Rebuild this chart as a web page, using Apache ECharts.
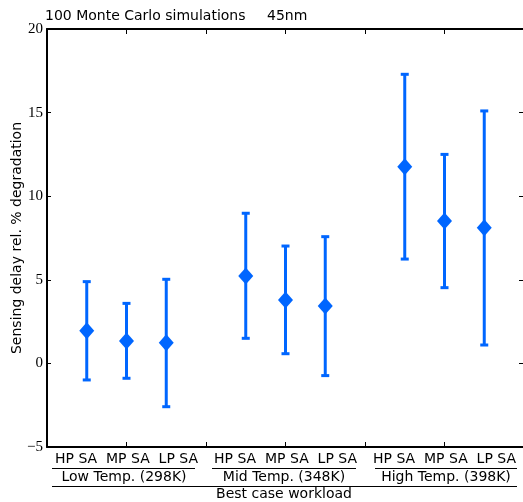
<!DOCTYPE html>
<html><head><meta charset="utf-8">
<script src="https://cdn.jsdelivr.net/npm/echarts@6/dist/echarts.min.js"></script>
<style>html,body{margin:0;padding:0;background:#fff}#c{width:523px;height:502px}</style>
</head><body><div id="c"></div>
<script>
const groups = ['Low Temp. (298K)', 'Mid Temp. (348K)', 'High Temp. (398K)'];
const amps = ['HP SA', 'MP SA', 'LP SA'];
const meanVals = [1.96, 1.34, 1.24, 5.23, 3.79, 3.43, 11.76, 8.52, 8.12];
const upperVals = [4.89, 3.59, 5.03, 8.98, 7.02, 7.58, 17.29, 12.50, 15.10];
const lowerVals = [-0.99, -0.89, -2.59, 1.50, 0.58, -0.73, 6.24, 4.53, 1.10];
const yTicks = [-5, 0, 5, 10, 15, 20];
const xLabel = 'Best case workload';
const yLabel = 'Sensing delay rel. % degradation';

const BLUE = '#0066ff';
const xs = [];
groups.forEach((g, gi) => amps.forEach((a, ai) => xs.push(gi * 2 + 0.5 + ai * 0.5)));
const ampLine = amps.join('  ');
const groupLabelMap = {};
groups.forEach((g, gi) => { groupLabelMap[gi * 2 + 1] = g; });

const errData = xs.map((x, i) => [x, lowerVals[i], upperVals[i]]);
const ptData = xs.map((x, i) => [x, meanVals[i]]);

const chart = echarts.init(document.getElementById('c'));
const sans = 'DejaVu Sans';
const tickStyle = { color: '#000', width: 1 };
chart.setOption({
  animation: false,
  grid: { left: 47, top: 29, width: 477, height: 418, containLabel: false, outerBoundsMode: 'none' },
  xAxis: [
    { type: 'value', min: 0, max: 6, interval: 1, position: 'bottom',
      axisLine: { show: true, onZero: false, lineStyle: { color: '#000', width: 2 } },
      axisTick: { show: true, inside: true, length: 5, lineStyle: tickStyle },
      axisLabel: { show: false }, splitLine: { show: false } },
    { type: 'value', min: 0, max: 6, interval: 1, position: 'bottom',
      axisLine: { show: false }, axisTick: { show: false }, splitLine: { show: false },
      axisLabel: { show: true, margin: 5, color: '#000', fontFamily: sans, fontSize: 14,
        formatter: v => (groupLabelMap[v] ? ampLine : '') } },
    { type: 'value', min: 0, max: 6, interval: 1, position: 'top',
      axisLine: { show: true, onZero: false, lineStyle: { color: '#000', width: 2 } },
      axisTick: { show: true, inside: true, length: 5, lineStyle: tickStyle },
      axisLabel: { show: false }, splitLine: { show: false } }
  ],
  yAxis: [
    { type: 'value', min: yTicks[0], max: yTicks[yTicks.length - 1], interval: 5, position: 'left',
      name: yLabel, nameLocation: 'middle', nameGap: 23, nameMoveOverlap: false,
      nameTextStyle: { fontFamily: sans, fontSize: 14, color: '#000' },
      axisLine: { show: true, onZero: false, lineStyle: { color: '#000', width: 2 } },
      axisTick: { show: true, inside: true, length: 4, lineStyle: tickStyle },
      axisLabel: { margin: 4, color: '#000', fontFamily: 'Liberation Serif', fontSize: 15,
        formatter: v => v < 0 ? '\u2212' + Math.abs(v) : String(v) },
      splitLine: { show: false } },
    { type: 'value', min: yTicks[0], max: yTicks[yTicks.length - 1], interval: 5, position: 'right',
      axisLine: { show: true, onZero: false, lineStyle: { color: '#000', width: 2 } },
      axisTick: { show: true, inside: true, length: 5, lineStyle: tickStyle },
      axisLabel: { show: false }, splitLine: { show: false } }
  ],
  series: [
    { type: 'custom', xAxisIndex: 0, yAxisIndex: 0, data: errData,
      renderItem: (params, api) => {
        const x = api.value(0);
        const lo = api.coord([x, api.value(1)]);
        const hi = api.coord([x, api.value(2)]);
        const hw = 4;
        const st = { stroke: BLUE, lineWidth: 3 };
        return { type: 'group', children: [
          { type: 'line', shape: { x1: lo[0], y1: lo[1], x2: hi[0], y2: hi[1] }, style: st },
          { type: 'line', shape: { x1: lo[0] - hw, y1: lo[1], x2: lo[0] + hw, y2: lo[1] }, style: st },
          { type: 'line', shape: { x1: hi[0] - hw, y1: hi[1], x2: hi[0] + hw, y2: hi[1] }, style: st }
        ]};
      } },
    { type: 'scatter', xAxisIndex: 0, yAxisIndex: 0, data: ptData,
      symbol: 'diamond', symbolSize: [15, 17], itemStyle: { color: BLUE, opacity: 1 }, z: 5 }
  ],
  graphic: [
    { type: 'text', x: 45, y: 16, style: { text: '100 Monte Carlo simulations', font: '14px "DejaVu Sans"', fill: '#000', textVerticalAlign: 'middle' } },
    { type: 'text', x: 267, y: 16, style: { text: '45nm', font: '14px "DejaVu Sans"', fill: '#000', textVerticalAlign: 'middle' } },
    { type: 'line', shape: { x1: 52, y1: 468.5, x2: 195, y2: 468.5 }, style: { stroke: '#000', lineWidth: 1 } },
    { type: 'line', shape: { x1: 212, y1: 468.5, x2: 356, y2: 468.5 }, style: { stroke: '#000', lineWidth: 1 } },
    { type: 'line', shape: { x1: 375, y1: 468.5, x2: 517, y2: 468.5 }, style: { stroke: '#000', lineWidth: 1 } },
    { type: 'line', shape: { x1: 52, y1: 486.5, x2: 517, y2: 486.5 }, style: { stroke: '#000', lineWidth: 1 } },
    { type: 'text', x: 124, y: 477, style: { text: groups[0], font: '14px "DejaVu Sans"', fill: '#000', textAlign: 'center', textVerticalAlign: 'middle' } },
    { type: 'text', x: 284, y: 477, style: { text: groups[1], font: '14px "DejaVu Sans"', fill: '#000', textAlign: 'center', textVerticalAlign: 'middle' } },
    { type: 'text', x: 446, y: 477, style: { text: groups[2], font: '14px "DejaVu Sans"', fill: '#000', textAlign: 'center', textVerticalAlign: 'middle' } },
    { type: 'text', x: 284, y: 494, style: { text: xLabel, font: '14px "DejaVu Sans"', fill: '#000', textAlign: 'center', textVerticalAlign: 'middle' } }
  ]
});
</script></body></html>
